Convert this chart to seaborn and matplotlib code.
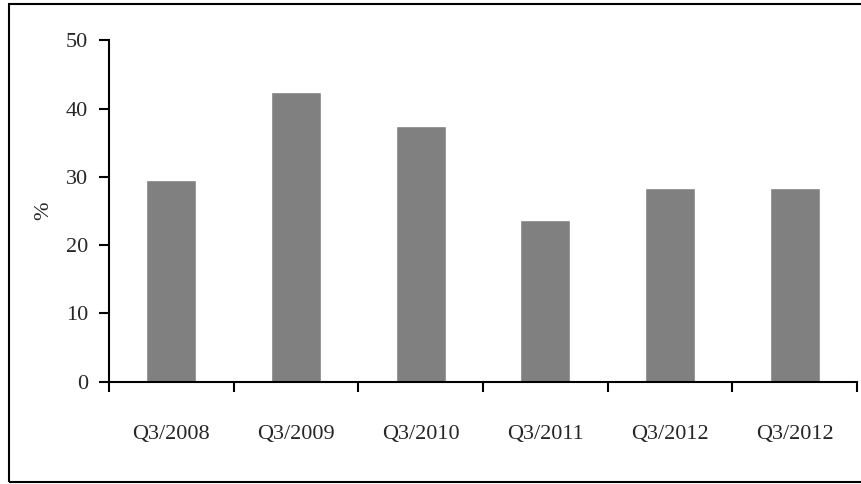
import numpy as np
import seaborn as sns

import matplotlib
matplotlib.use('Agg')

import matplotlib.pyplot as plt
from matplotlib.patches import Rectangle

# Chart data
periods = ["Q3/2008", "Q3/2009", "Q3/2010", "Q3/2011", "Q3/2012", "Q3/2012"]
shares = [29.5, 42.4, 37.4, 23.7, 28.4, 28.4]
y_ticks = [0, 10, 20, 30, 40, 50]

sns.set_style("white")
plt.rcParams['font.family'] = ['Liberation Serif', 'DejaVu Serif']

fig = plt.figure(figsize=(8.62, 4.84), dpi=100)
ax = fig.add_axes([109 / 862, 1 - 381.7 / 484, 748 / 862, 341.5 / 484])

# Outer frame around the whole chart
fig.patches.append(Rectangle((9 / 862, 1 - 482 / 484), 1.0, 478 / 484,
                             transform=fig.transFigure, fill=False,
                             edgecolor='black', linewidth=1.5, clip_on=False))

sns.barplot(x=np.arange(len(shares)), y=shares, color='#808080',
            saturation=1, width=0.4, ax=ax)

ax.set_xlim(-0.5, len(shares) - 0.5)
ax.set_ylim(0, 50)
ax.set_yticks(y_ticks)
ax.set_yticklabels([str(t) for t in y_ticks], fontsize=16)

# Category labels at centres, tick marks at category boundaries
ax.set_xticks(np.arange(len(shares)))
ax.set_xticklabels(periods, fontsize=16)
ax.set_xticks(np.arange(len(shares) + 1) - 0.5, minor=True)
ax.tick_params(axis='x', which='major', length=0, pad=31)
ax.tick_params(axis='x', which='minor', length=7.2, width=1.5, direction='out',
               color='black', bottom=True)
ax.tick_params(axis='y', which='major', length=7.2, width=1.5, direction='out',
               color='black', left=True, pad=8)

for side in ['top', 'right']:
    ax.spines[side].set_visible(False)
for side in ['left', 'bottom']:
    ax.spines[side].set_color('black')
    ax.spines[side].set_linewidth(1.5)

ax.set_xlabel("")
ax.set_ylabel("%", fontsize=16, labelpad=9)

fig.savefig("out.png", dpi=100)
plt.close(fig)
